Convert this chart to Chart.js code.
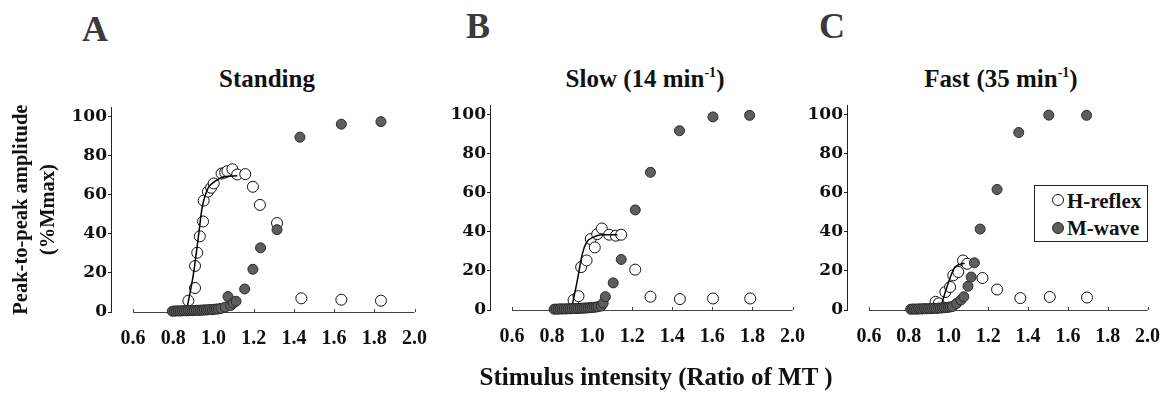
<!DOCTYPE html>
<html lang="en">
<head>
<meta charset="UTF-8">
<title>H-reflex and M-wave recruitment curves</title>
<script src="https://cdn.jsdelivr.net/npm/chart.js"></script>
<style>
    body { margin: 0; width: 1176px; height: 394px; background: #fff; position: relative; overflow: hidden;
           font-family: "Liberation Serif", serif; font-weight: bold; color: #111; }
    canvas { position: absolute; }
    .letter { position: absolute; font-size: 36px; line-height: 1; color: #3a3a3a; transform: translateX(-50%); }
    .title { position: absolute; font-size: 25px; line-height: 1; white-space: nowrap; transform: translateX(-50%); }
    .title span { font-size: 14px; vertical-align: 10px; }
    .legend { position: absolute; left: 1034px; top: 185px; width: 112px; height: 55px; border: 1px solid #222; background: #fff; }
    .legend div { position: absolute; left: 32px; font-size: 21px; line-height: 1; }
    .legend i { position: absolute; left: 17px; width: 10px; height: 10px; border-radius: 50%; }
</style>
</head>
<body>
    <div class="letter" style="left:95px; top:11px;">A</div>
    <div class="letter" style="left:478px; top:8px;">B</div>
    <div class="letter" style="left:832px; top:8px;">C</div>

    <div class="title" style="left:267px; top:66px;">Standing</div>
    <div class="title" style="left:645px; top:66px;">Slow (14 min<span>-1</span>)</div>
    <div class="title" style="left:1001px; top:66px;">Fast (35 min<span>-1</span>)</div>

    <canvas id="chartA" width="442" height="260" style="left:0px; top:96px;"></canvas>
    <canvas id="chartB" width="380" height="260" style="left:440px; top:94px;"></canvas>
    <canvas id="chartC" width="378" height="260" style="left:797px; top:94px;"></canvas>

    <div class="legend">
        <i style="top:8px; background:#fff; border:1px solid #111;"></i><div style="top:5px;">H-reflex</div>
        <i style="top:36px; background:#5e5e5e; border:1px solid #2a2a2a;"></i><div style="top:32px;">M-wave</div>
    </div>

    <div class="title" style="left:656px; top:364px;">Stimulus intensity (Ratio of MT )</div>

    <script>
    // tick labels
    const xTicks = [0.6, 0.8, 1.0, 1.2, 1.4, 1.6, 1.8, 2.0];
    const yTicks = [0, 20, 40, 60, 80, 100];

    // A - standing
    const standHx = [0.875, 0.908, 0.908, 0.919, 0.932, 0.948, 0.951, 0.972, 0.988, 1.001, 1.040, 1.058, 1.069, 1.094, 1.118, 1.158, 1.196, 1.231, 1.316, 1.437, 1.636, 1.833];
    const standHy = [5.8, 12.3, 23.6, 30.4, 38.8, 46.4, 57.1, 61.7, 63.7, 65.9, 71.0, 71.5, 72.2, 73.2, 70.5, 70.7, 64.2, 54.9, 45.6, 7.0, 6.3, 5.8];
    const standMx = [0.795, 0.805, 0.815, 0.825, 0.835, 0.845, 0.855, 0.865, 0.875, 0.885, 0.895, 0.905, 0.915, 0.925, 0.935, 0.945, 0.955, 0.965, 0.975, 0.985, 0.995, 1.005, 1.015, 1.025,
                     1.037, 1.058, 1.072, 1.085, 1.098, 1.112, 1.155, 1.196, 1.234, 1.316, 1.430, 1.636, 1.833];
    const standMy = [0.4, 0.5, 0.5, 0.6, 0.5, 0.6, 0.7, 0.6, 0.7, 0.8, 0.7, 0.8, 0.9, 0.8, 1.0, 0.9, 1.1, 1.0, 1.2, 1.3, 1.2, 1.4, 1.5, 1.6,
                     1.8, 2.5, 7.9, 3.3, 4.5, 5.5, 11.8, 21.9, 32.9, 42.2, 89.6, 96.3, 97.6];
    const standFitX = [0.866, 0.900, 0.924, 0.943, 0.972, 1.005, 1.052, 1.118];
    const standFitY = [0.8, 19.4, 38.0, 53.2, 63.3, 66.8, 69.3, 69.8];

    // B - slow (14 min-1)
    const slowHx = [0.907, 0.932, 0.945, 0.972, 0.993, 1.013, 1.025, 1.048, 1.085, 1.118, 1.145, 1.215, 1.291, 1.438, 1.603, 1.789];
    const slowHy = [5.1, 7.1, 22.0, 25.4, 36.4, 32.1, 38.9, 41.8, 38.6, 38.1, 38.6, 20.7, 6.8, 5.6, 5.9, 5.9];
    const slowMx = [0.810, 0.820, 0.830, 0.840, 0.850, 0.860, 0.870, 0.880, 0.890, 0.900, 0.910, 0.920, 0.930, 0.940, 0.950, 0.960, 0.970, 0.980, 0.990, 1.000, 1.010, 1.020, 1.030,
                    1.045, 1.055, 1.066, 1.105, 1.145, 1.215, 1.291, 1.436, 1.603, 1.786];
    const slowMy = [0.4, 0.5, 0.4, 0.6, 0.5, 0.6, 0.5, 0.7, 0.6, 0.7, 0.8, 0.7, 0.8, 0.9, 0.9, 1.0, 1.0, 1.1, 1.2, 1.3, 1.4, 1.5, 1.7,
                    2.0, 3.5, 6.8, 13.9, 25.9, 51.3, 70.6, 91.9, 99.0, 99.8];
    const slowFitX = [0.899, 0.923, 0.951, 0.972, 1.004, 1.045, 1.126];
    const slowFitY = [1.7, 13.6, 28.8, 34.7, 37.2, 38.6, 38.6];

    // C - fast (35 min-1)
    const fastHx = [0.935, 0.951, 0.984, 1.008, 1.024, 1.049, 1.073, 1.094, 1.171, 1.244, 1.361, 1.509, 1.696];
    const fastHy = [4.2, 3.4, 9.2, 11.8, 17.8, 19.5, 25.4, 23.7, 16.4, 10.5, 6.1, 6.7, 6.4];
    const fastMx = [0.810, 0.820, 0.830, 0.840, 0.850, 0.860, 0.870, 0.880, 0.890, 0.900, 0.910, 0.920, 0.930, 0.940, 0.950, 0.960, 0.970, 0.980, 0.990, 1.000, 1.010, 1.020,
                    1.041, 1.062, 1.077, 1.098, 1.114, 1.130, 1.159, 1.244, 1.353, 1.504, 1.694];
    const fastMy = [0.4, 0.5, 0.5, 0.4, 0.6, 0.5, 0.6, 0.7, 0.6, 0.7, 0.7, 0.8, 0.9, 0.8, 1.0, 1.0, 1.1, 1.2, 1.3, 1.4, 1.6, 1.8,
                    3.4, 5.1, 6.8, 12.2, 16.9, 24.2, 41.5, 61.8, 91.0, 99.9, 99.8];
    const fastFitX = [0.967, 0.992, 1.016, 1.033, 1.060, 1.081];
    const fastFitY = [3.7, 11.8, 18.6, 22.0, 23.5, 24.0];

    const pts = (xs, ys) => xs.map((x, i) => ({ x: x, y: ys[i] }));

    // x axis line only runs from 0.6 to 2.0, with small inward ticks
    const baseline = {
        id: 'baseline',
        beforeDatasetsDraw(chart) {
            const { ctx, scales: { x, y } } = chart;
            const y0 = y.getPixelForValue(0);
            ctx.save();
            ctx.strokeStyle = '#444';
            ctx.lineWidth = 1;
            ctx.beginPath();
            ctx.moveTo(x.getPixelForValue(xTicks[0]), y0 + 0.5);
            ctx.lineTo(x.getPixelForValue(xTicks[xTicks.length - 1]), y0 + 0.5);
            xTicks.forEach(v => {
                const px = Math.round(x.getPixelForValue(v)) + 0.5;
                ctx.moveTo(px, y0);
                ctx.lineTo(px, y0 - 3);
            });
            ctx.stroke();
            ctx.restore();
        }
    };

    function makePanel(id, hx, hy, mx, my, fx, fy, yWidth, showTitle) {
        new Chart(document.getElementById(id), {
            type: 'scatter',
            data: {
                datasets: [{
                    label: 'M-wave',
                    data: pts(mx, my),
                    pointRadius: 5,
                    pointBackgroundColor: '#5e5e5e',
                    pointBorderColor: '#2a2a2a',
                    pointBorderWidth: 1,
                    order: 0,
                    clip: false
                }, {
                    label: 'fit',
                    data: pts(fx, fy),
                    showLine: true,
                    pointRadius: 0,
                    borderColor: '#000',
                    borderWidth: 1.5,
                    cubicInterpolationMode: 'monotone',
                    order: 1,
                    clip: false
                }, {
                    label: 'H-reflex',
                    data: pts(hx, hy),
                    pointRadius: 5.5,
                    pointBackgroundColor: '#fff',
                    pointBorderColor: '#111',
                    pointBorderWidth: 1,
                    order: 2,
                    clip: false
                }]
            },
            options: {
                responsive: false,
                animation: false,
                devicePixelRatio: 1,
                layout: { padding: { top: 9, right: 20, left: 0, bottom: 0 } },
                plugins: { legend: { display: false }, tooltip: { enabled: false } },
                scales: {
                    x: {
                        type: 'linear',
                        min: 0.49,
                        max: 2.0,
                        afterBuildTicks: s => { s.ticks = xTicks.map(v => ({ value: v })); },
                        afterFit: s => { s.height = 44; },
                        border: { display: false },
                        grid: { display: false, drawTicks: false },
                        ticks: {
                            padding: 15,
                            color: '#111',
                            font: { family: '"Liberation Serif"', size: 20, weight: 'bold' },
                            callback: v => v.toFixed(1)
                        }
                    },
                    y: {
                        min: 0,
                        max: 105,
                        afterBuildTicks: s => { s.ticks = yTicks.map(v => ({ value: v })); },
                        afterFit: s => { s.width = yWidth; },
                        border: { display: true, color: '#222', width: 1 },
                        grid: { drawOnChartArea: false, drawTicks: true, tickLength: 3, color: '#222' },
                        ticks: {
                            padding: 1,
                            color: '#111',
                            font: { family: '"DejaVu Serif"', size: 17, weight: 'bold' },
                            callback: v => String(v)
                        },
                        title: {
                            display: showTitle,
                            text: ['Peak-to-peak amplitude', '(%Mmax)'],
                            color: '#111',
                            font: { family: '"Liberation Serif"', size: 20.5, weight: 'bold', lineHeight: 1.317 },
                            padding: { top: 8.5, bottom: 0 }
                        }
                    }
                }
            },
            plugins: [baseline]
        });
    }

    makePanel('chartA', standHx, standHy, standMx, standMy, standFitX, standFitY, 111, true);
    makePanel('chartB', slowHx, slowHy, slowMx, slowMy, slowFitX, slowFitY, 50, false);
    makePanel('chartC', fastHx, fastHy, fastMx, fastMy, fastFitX, fastFitY, 50, false);
    </script>
</body>
</html>
